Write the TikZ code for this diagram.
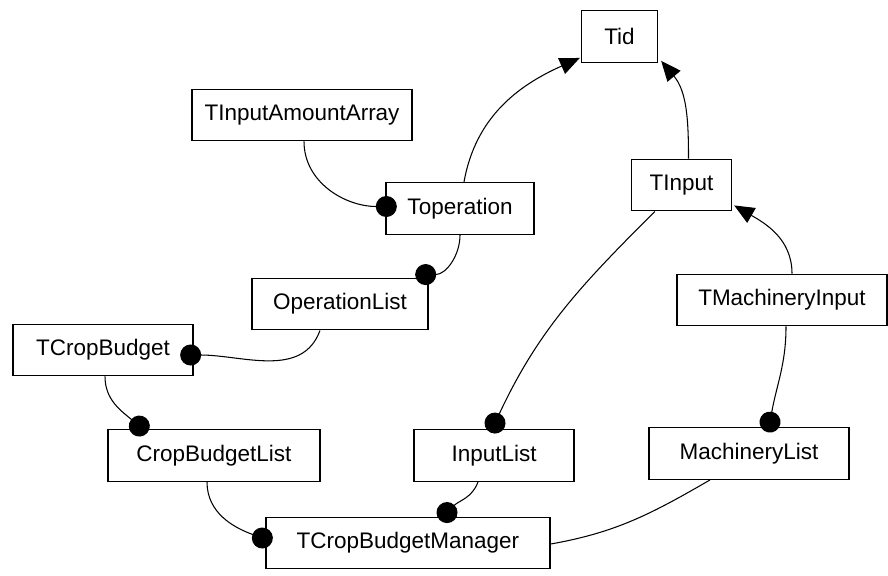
\documentclass[tikz,border=0pt]{standalone}
\usepackage{fontspec}
\setmainfont{Liberation Sans}
\usetikzlibrary{arrows.meta,calc}

\tikzset{
  cls/.style={draw,line width=0.8pt,inner sep=0pt,minimum height=1.03cm,font=\fontsize{12.8}{15}\selectfont},
  lnk/.style={line width=0.6pt},
  dot/.style={lnk,-{Circle[length=0.42cm]},shorten >=-0.21cm},
  arr/.style={lnk,-{Triangle[length=0.4cm,width=0.34cm]}}
}

\begin{document}
\begin{tikzpicture}[x=0.02cm,y=0.02cm]
\useasboundingbox (0,0) rectangle (888,-575);

\node[cls,minimum width=1.52cm] (tid) at (619.5,-36.5) {Tid};
\node[cls,minimum width=4.4cm] (amount) at (302,-115) {TInputAmountArray};
\node[cls,minimum width=2.96cm] (oper) at (460,-208.5) {Toperation};
\node[cls,minimum width=3.52cm] (operlist) at (340,-304) {OperationList};
\node[cls,minimum width=3.6cm] (crop) at (103,-350) {TCropBudget};
\node[cls,minimum width=4.24cm] (croplist) at (214,-455.5) {CropBudgetList};
\node[cls,minimum width=5.68cm] (manager) at (408,-543) {TCropBudgetManager};
\node[cls,minimum width=3.2cm] (inlist) at (494,-455.5) {InputList};
\node[cls,minimum width=4.0cm] (machlist) at (749,-453.5) {MachineryList};
\node[cls,minimum width=2.0cm] (input) at (681.5,-185) {TInput};
\node[cls,minimum width=4.2cm] (machin) at (782,-300) {TMachineryInput};

% inheritance
\draw[arr] ($(oper.north)+(4,0)$) to[out=80,in=204] ($(tid.south west)+(-1,5)$);
\draw[arr] ($(input.north)+(7,0)$) to[out=90,in=-50] ($(tid.south east)+(3,2)$);
\draw[arr] ($(machin.north)+(10,0)$) to[out=90,in=-30] ($(input.south east)+(2,6)$);

% ownership
\draw[dot] ($(amount.south)+(2,0)$) to[out=-90,in=180] ($(oper.west)+(1,2)$);
\draw[dot] (oper.south) to[out=-90,in=0] ($(operlist.north east)+(-3,3)$);
\draw[dot] ($(operlist.south)+(-20,0)$) to[out=-110,in=0] ($(crop.east)+(-3,-5)$);
\draw[dot] ($(crop.south)+(2,0)$) to[out=-90,in=140] ($(croplist.north west)+(32,3)$);
\draw[dot] ($(croplist.south)+(-7,0)$) to[out=-90,in=160] ($(manager.west)+(-3,5)$);
\draw[dot] ($(inlist.south)+(-16,0)$) to[out=-110,in=45] ($(manager.north)+(39,4)$);
\draw[dot] ($(input.south west)+(24,0)$) to[out=225,in=65] ($(inlist.north)+(1,6)$);
\draw[dot] ($(machin.south)+(4,0)$) to[out=-90,in=80] ($(machlist.north)+(21,5)$);
\draw[lnk] ($(machlist.south)+(-39,0)$) to[out=-150,in=10] ($(manager.east)+(0,-1)$);
\end{tikzpicture}
\end{document}
